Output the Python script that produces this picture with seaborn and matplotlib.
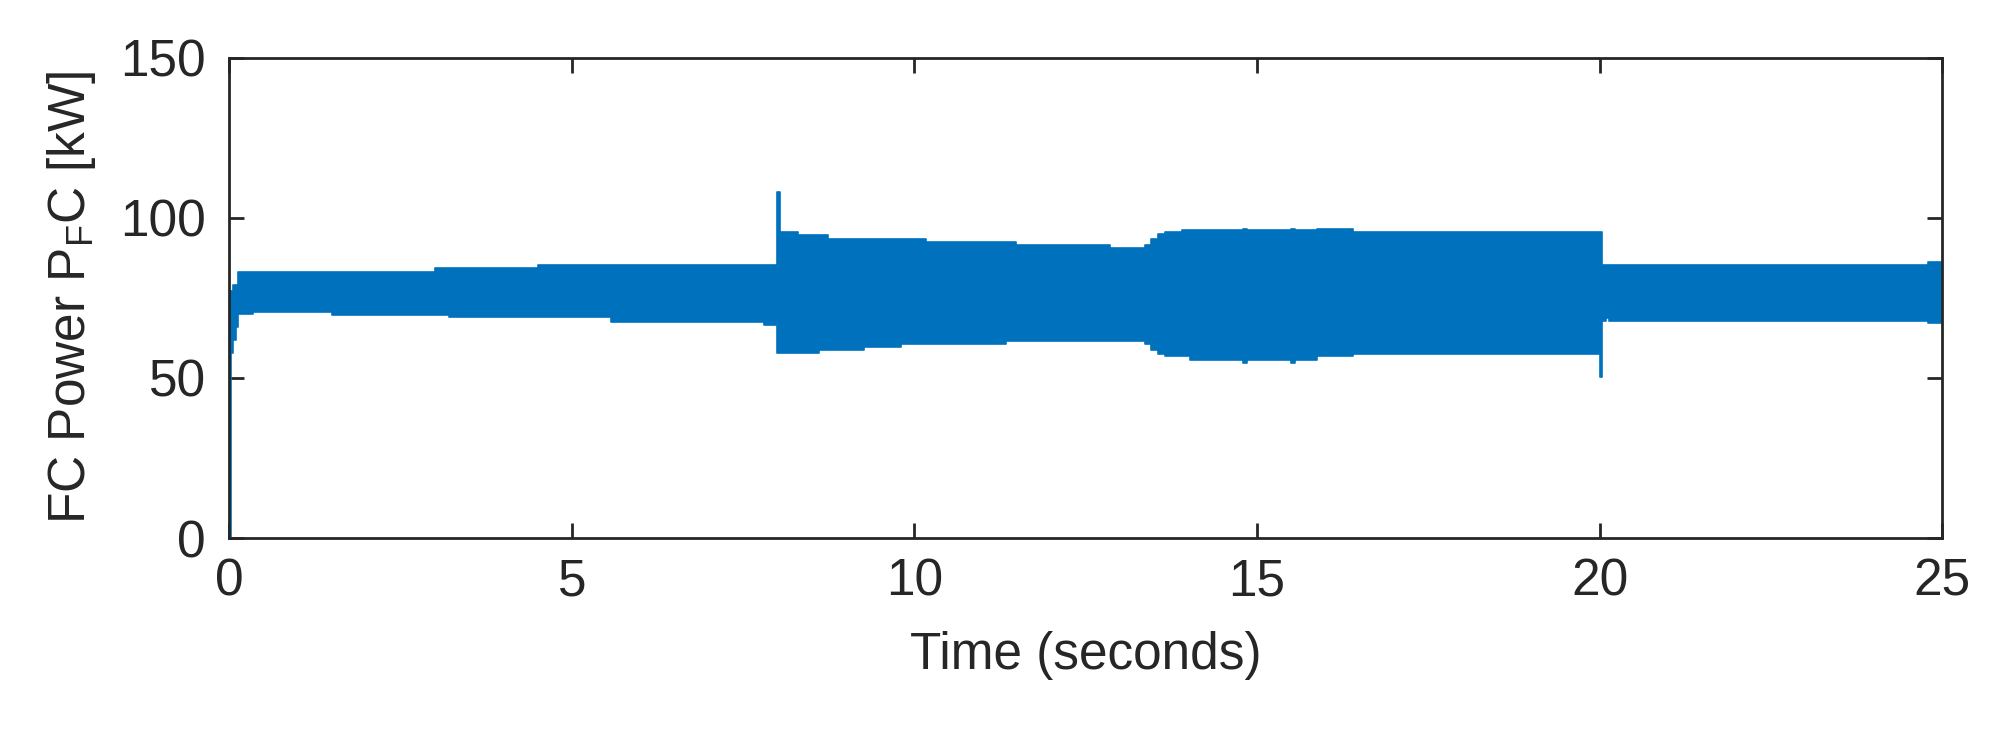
import numpy as np
import pandas as pd
import matplotlib
matplotlib.use("Agg")
import matplotlib.pyplot as plt
import seaborn as sns

# envelope of the fast oscillating FC power signal (step-post breakpoints)
time_s = [0.00, 0.03, 0.06, 0.10, 0.13, 0.35, 1.50, 3.00, 3.20, 4.50,
          5.57, 7.80, 8.00, 8.04, 8.30, 8.60, 8.74, 9.27, 9.80, 10.17,
          11.33, 11.48, 12.85, 13.37, 13.45, 13.55, 13.65, 13.90, 14.02, 14.80,
          14.85, 15.50, 15.55, 15.88, 16.40, 20.00, 20.03, 20.10, 20.14, 24.80,
          25.00]
upper_kw = [77.0, 77.0, 79.0, 79.0, 83.2, 83.2, 83.2, 84.3, 84.3, 85.1,
            85.1, 85.1, 108.0, 95.5, 94.5, 94.5, 93.4, 93.4, 93.4, 92.4,
            92.4, 91.4, 90.5, 91.5, 93.5, 95.0, 95.5, 96.3, 96.3, 96.6,
            96.3, 96.6, 96.3, 96.6, 95.5, 95.5, 85.3, 85.3, 85.3, 86.3,
            85.3]
lower_kw = [0.0, 57.7, 61.8, 66.0, 70.0, 70.7, 69.7, 69.7, 69.0, 69.0,
            67.6, 66.6, 57.7, 57.7, 57.7, 58.8, 58.8, 59.8, 60.5, 60.5,
            61.6, 61.6, 61.6, 60.5, 58.7, 57.5, 56.7, 56.7, 55.6, 54.6,
            55.6, 54.6, 55.6, 56.7, 57.4, 50.2, 67.8, 68.6, 67.8, 67.2,
            67.2]

x_ticks = [0, 5, 10, 15, 20, 25]
y_ticks = [0, 50, 100, 150]

df = pd.DataFrame({"t": time_s, "hi": upper_kw, "lo": lower_kw})

sns.set_style("ticks")
plt.rcParams["font.family"] = ["Liberation Sans", "DejaVu Sans"]
plt.rcParams["mathtext.fontset"] = "custom"
plt.rcParams["mathtext.rm"] = "Liberation Sans"

blue = "#0072BD"
fig = plt.figure(figsize=(19.94, 7.30), dpi=100)
ax = fig.add_axes([0.115, 0.263, 0.859, 0.658])

ax.fill_between(df["t"], df["lo"], df["hi"], step="post", color=blue, linewidth=0)
sns.lineplot(data=df, x="t", y="hi", ax=ax, color=blue, linewidth=1.2, drawstyle="steps-post")
sns.lineplot(data=df, x="t", y="lo", ax=ax, color=blue, linewidth=1.2, drawstyle="steps-post")

ax.set_xlim(0, 25)
ax.set_ylim(0, 150)
ax.set_xticks(x_ticks)
ax.set_yticks(y_ticks)
ax.tick_params(direction="in", length=11, width=2, labelsize=37, colors="#262626",
               top=True, right=True)
ax.tick_params(axis="x", pad=14)
ax.tick_params(axis="y", pad=17)
for sp in ax.spines.values():
    sp.set_visible(True)
    sp.set_linewidth(2)
    sp.set_color("#262626")

ax.set_xlabel("Time (seconds)", fontsize=37, color="#262626", labelpad=18)
ax.set_ylabel(r"FC Power P$_\mathrm{F}$C [kW]", fontsize=37, color="#262626", labelpad=16)

fig.savefig("out.png", dpi=100)
